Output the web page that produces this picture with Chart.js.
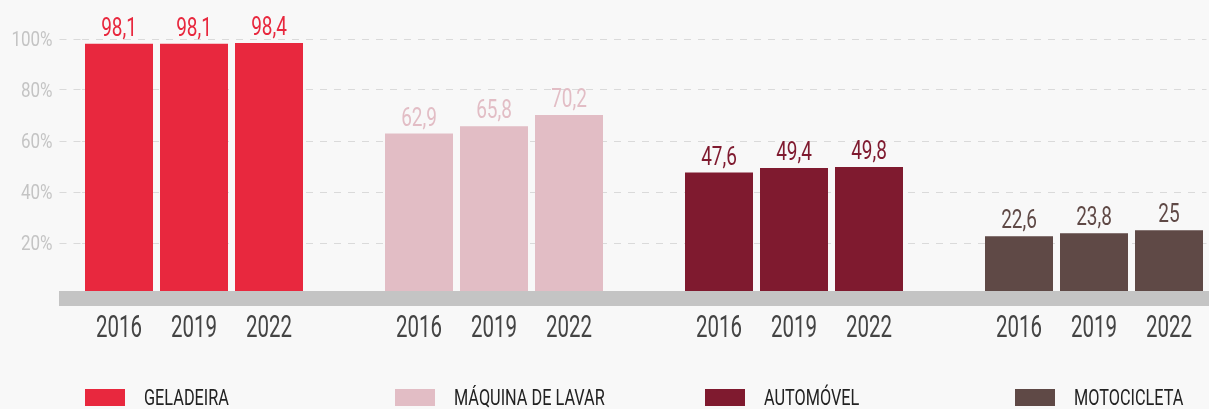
<!DOCTYPE html>
<html>
<head>
<meta charset="UTF-8">
<title>Bens duráveis nos domicílios</title>
<script src="https://cdn.jsdelivr.net/npm/chart.js@4/dist/chart.umd.min.js"></script>
<style>
  body { margin: 0; background: #f8f8f8; }
  #wrap { position: relative; width: 1209px; height: 409px; overflow: hidden; }
  #legend { position: absolute; left: 85px; top: 387px; display: flex; }
  .item { width: 310px; display: flex; align-items: flex-start; }
  .sw { width: 40px; height: 17px; margin-top: 2px; margin-right: 19px; flex: none; }
  .lbl { display: inline-block; font: 22px Roboto, sans-serif; line-height: 22px; color: #222;
         transform: scaleX(0.74); transform-origin: left center; white-space: nowrap; }
</style>
</head>
<body>
<div id="wrap">
  <canvas id="myChart" width="1209" height="409"></canvas>
  <div id="legend"></div>
</div>
<script>
  // dados
  const categorias = ['GELADEIRA', 'MÁQUINA DE LAVAR', 'AUTOMÓVEL', 'MOTOCICLETA'];
  const anos = ['2016', '2019', '2022'];
  const geladeira = [98.1, 98.1, 98.4];
  const maquina = [62.9, 65.8, 70.2];
  const automovel = [47.6, 49.4, 49.8];
  const motocicleta = [22.6, 23.8, 25];
  const cores = ['#e8283e', '#e2bdc5', '#7f1a2f', '#5f4946'];
  const series = [geladeira, maquina, automovel, motocicleta];

  // rótulos do eixo x: 3 anos por grupo + uma vaga entre grupos
  const labels = [];
  categorias.forEach((c, i) => {
    anos.forEach(a => labels.push(a));
    if (i < categorias.length - 1) labels.push('');
  });

  const datasets = series.map((vals, i) => ({
    label: categorias[i],
    data: labels.map((_, k) => (Math.floor(k / 4) === i && k % 4 < 3) ? vals[k % 4] : null),
    backgroundColor: cores[i],
    grouped: false,
    barPercentage: 68 / 75,
    categoryPercentage: 1
  }));

  // texto "condensado": fillText com maxWidth reduzido
  function escreve(ctx, t, x, y, f) {
    ctx.fillText(t, x, y, ctx.measureText(t).width * f);
  }

  const faixa = {
    id: 'faixa',
    afterDatasetsDraw(chart) {
      const ctx = chart.ctx, a = chart.chartArea;
      ctx.save();
      ctx.fillStyle = '#c4c4c4';
      ctx.fillRect(59, a.bottom - 3, chart.width - 59, 15);
      ctx.restore();
    }
  };

  const textos = {
    id: 'textos',
    afterDraw(chart) {
      const ctx = chart.ctx, sx = chart.scales.x, sy = chart.scales.y;
      ctx.save();
      ctx.textBaseline = 'alphabetic';

      // valores sobre as barras
      ctx.textAlign = 'center';
      ctx.font = '26px Roboto';
      chart.data.datasets.forEach((ds, i) => {
        ctx.fillStyle = ds.backgroundColor;
        chart.getDatasetMeta(i).data.forEach((bar, k) => {
          const v = ds.data[k];
          if (v == null) return;
          escreve(ctx, String(v).replace('.', ','), bar.x, bar.y - 8, 0.73);
        });
      });

      // anos
      ctx.fillStyle = '#444';
      ctx.font = '32px Roboto';
      labels.forEach((l, k) => {
        if (l) escreve(ctx, l, sx.getPixelForTick(k), 337, 0.64);
      });

      // eixo y
      ctx.textAlign = 'right';
      ctx.fillStyle = '#c4c4c4';
      ctx.font = '20px Roboto';
      sy.ticks.forEach(t => {
        if (t.value) escreve(ctx, t.value + '%', sy.right - 29, sy.getPixelForValue(t.value) + 7, 0.85);
      });
      ctx.restore();
    }
  };

  const gridColor = c => (c.tick && c.tick.value === 0) ? 'rgba(0,0,0,0)' : '#dadada';

  new Chart(document.getElementById('myChart'), {
    type: 'bar',
    data: { labels: labels, datasets: datasets },
    options: {
      responsive: false,
      animation: false,
      layout: { padding: { left: 9.5, right: 2.5, top: 39, bottom: 0 } },
      plugins: { legend: { display: false }, tooltip: { enabled: false } },
      scales: {
        x: {
          grid: { display: false },
          border: { display: false },
          ticks: { display: false, autoSkip: false },
          afterFit(s) { s.height = 115; }
        },
        y: {
          min: 0,
          max: 100,
          ticks: { stepSize: 20, display: false },
          grid: { color: gridColor, tickColor: gridColor, tickLength: 22, tickBorderDash: [7, 7] },
          border: { display: false, dash: [7, 7] },
          afterFit(s) { s.width = 72; }
        }
      }
    },
    plugins: [faixa, textos]
  });

  // legenda
  const leg = document.getElementById('legend');
  categorias.forEach((c, i) => {
    const it = document.createElement('div');
    it.className = 'item';
    it.innerHTML = '<span class="sw" style="background:' + cores[i] + '"></span><span class="lbl">' + c + '</span>';
    leg.appendChild(it);
  });
</script>
</body>
</html>
